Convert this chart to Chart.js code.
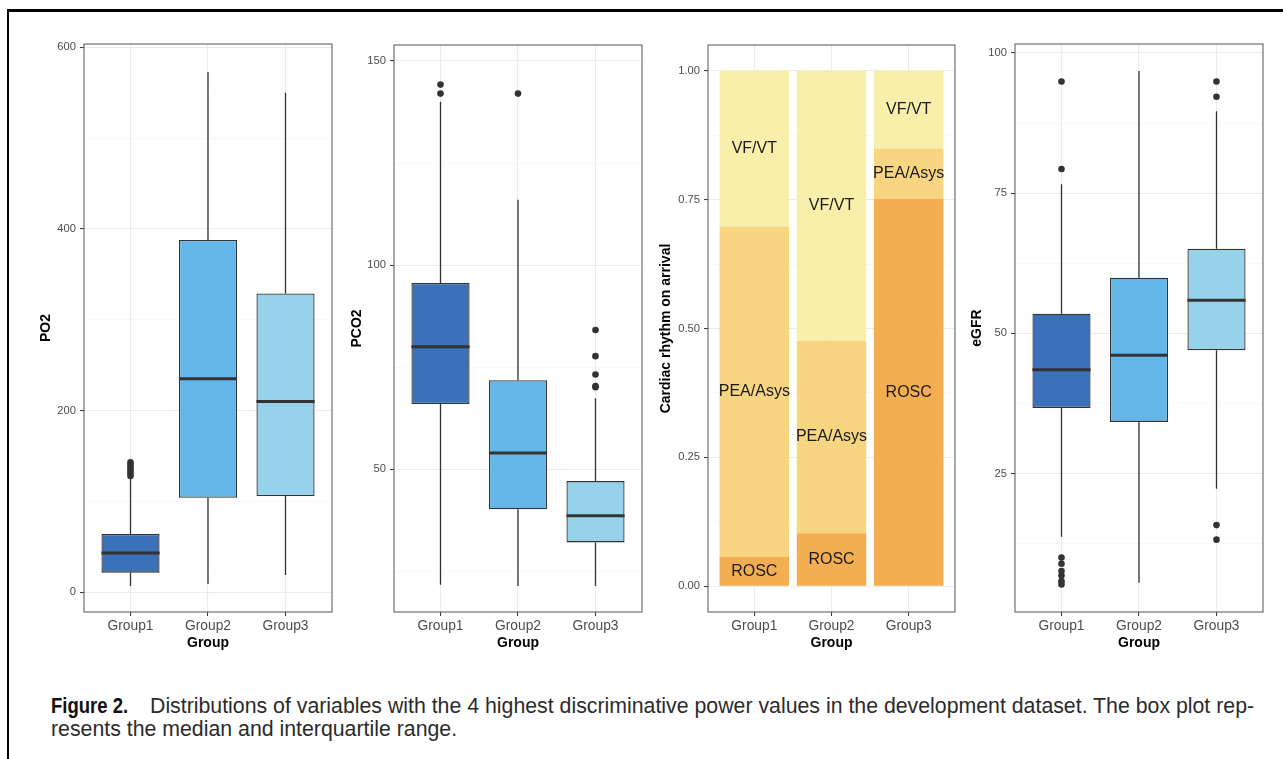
<!DOCTYPE html>
<html>
<head>
<meta charset="utf-8">
<script src="https://cdn.jsdelivr.net/npm/chart.js@4.4.1/dist/chart.umd.min.js"></script>
<style>
  body { margin: 0; background: #fff; width: 1283px; height: 759px; overflow: hidden; position: relative;
         font-family: "Liberation Sans", Arial, sans-serif; }
  .frame { position: absolute; left: 7px; top: 9px; width: 1400px; height: 900px;
           border-top: 3px solid #000; border-left: 2px solid #000; }
  canvas { position: absolute; top: 30px; }
  .cap { position: absolute; left: 51px; font-size: 21.3px; line-height: 23px; color: #2b2b2b; white-space: nowrap; }
  .fig { display: inline-block; width: 99px; font-weight: bold; color: #111; transform: scaleX(0.87); transform-origin: left center; }
</style>
</head>
<body>
<div class="frame"></div>
<canvas id="po2" width="316" height="660" style="left:20px"></canvas>
<canvas id="pco2" width="316" height="660" style="left:330px"></canvas>
<canvas id="rhythm" width="313" height="660" style="left:644px"></canvas>
<canvas id="egfr" width="316" height="660" style="left:951px"></canvas>
<div class="cap" style="top:695px"><span class="fig">Figure 2.</span>Distributions of variables with the 4 highest discriminative power values in the development dataset. The box plot rep-</div>
<div class="cap" style="top:718px">resents the median and interquartile range.</div>

<script>
const GROUPS = ['Group1', 'Group2', 'Group3'];

// PO2
const PO2_LOW = [6.9, 9.1, 19];
const PO2_Q1 = [21.6, 104, 106];
const PO2_MEDIAN = [43.3, 235, 210];
const PO2_Q3 = [64.2, 388, 329];
const PO2_HIGH = [124.8, 573, 550];
const PO2_OUTLIERS = [[128, 131, 134, 137, 140, 143], [], []];
const PO2_TICKS = [0, 200, 400, 600];

// PCO2
const PCO2_LOW = [21.7, 21.4, 21.4];
const PCO2_Q1 = [66.0, 40.2, 32.1];
const PCO2_MEDIAN = [80.0, 54.0, 38.6];
const PCO2_Q3 = [95.6, 71.8, 47.1];
const PCO2_HIGH = [140, 116, 67.4];
const PCO2_OUTLIERS = [[142, 144.2], [142], [70.1, 70.4, 73.2, 77.7, 84.1]];
const PCO2_TICKS = [50, 100, 150];

// Cardiac rhythm on arrival (proportions)
const RHYTHMS = ['ROSC', 'PEA/Asys', 'VF/VT'];
const ROSC = [0.057, 0.103, 0.751];
const PEA_ASYS = [0.641, 0.373, 0.098];
const VF_VT = [0.302, 0.524, 0.151];
const RHYTHM_TICKS = [0, 0.25, 0.5, 0.75, 1];

// eGFR
const EGFR_LOW = [13.7, 5.5, 22.3];
const EGFR_Q1 = [36.7, 34.2, 47.0];
const EGFR_MEDIAN = [43.5, 46.1, 55.9];
const EGFR_Q3 = [53.5, 59.9, 65.1];
const EGFR_HIGH = [76.6, 96.8, 89.6];
const EGFR_OUTLIERS = [[5.2, 5.8, 6.8, 7.6, 8.9, 10.0, 79.3, 94.9], [], [13.2, 15.8, 92.2, 94.9]];
const EGFR_TICKS = [25, 50, 75, 100];

const BOX_COLORS = ['#3a71b9', '#63b7e8', '#96d3ea'];
const RHYTHM_COLORS = ['#f4ae52', '#f7d581', '#f8efab'];
const INK = '#333333';

Chart.defaults.font.family = '"Liberation Sans", Arial, sans-serif';

// thick median line across each box
const medianLine = {
  id: 'medianLine',
  afterDatasetsDraw(chart) {
    const ctx = chart.ctx;
    chart.data.datasets.forEach((ds, di) => {
      if (!ds.medians) return;
      chart.getDatasetMeta(di).data.forEach((bar, i) => {
        const p = bar.getProps(['x', 'width'], true);
        const y = chart.scales.y.getPixelForValue(ds.medians[i]);
        ctx.save();
        ctx.strokeStyle = INK;
        ctx.lineWidth = 3;
        ctx.beginPath();
        ctx.moveTo(p.x - p.width / 2, y);
        ctx.lineTo(p.x + p.width / 2, y);
        ctx.stroke();
        ctx.restore();
      });
    });
  }
};

// ggplot style panel border
const panelBorder = {
  id: 'panelBorder',
  afterDraw(chart) {
    const a = chart.chartArea;
    const ctx = chart.ctx;
    ctx.save();
    ctx.strokeStyle = '#555';
    ctx.lineWidth = 1;
    ctx.strokeRect(a.left, a.top, a.right - a.left, a.bottom - a.top);
    ctx.restore();
  }
};

// text in the middle of each stacked segment
const segmentLabels = {
  id: 'segmentLabels',
  afterDatasetsDraw(chart) {
    const ctx = chart.ctx;
    ctx.save();
    ctx.fillStyle = '#1a1a1a';
    ctx.font = '16px "Liberation Sans", Arial, sans-serif';
    ctx.textAlign = 'center';
    ctx.textBaseline = 'middle';
    chart.data.datasets.forEach((ds, di) => {
      chart.getDatasetMeta(di).data.forEach(bar => {
        const p = bar.getProps(['x', 'y', 'base'], true);
        ctx.fillText(ds.label, p.x, (p.y + p.base) / 2);
      });
    });
    ctx.restore();
  }
};

function withMinors(majors, lo, hi) {
  return scale => {
    const step = majors[1] - majors[0];
    const ticks = majors.map(v => ({ value: v }));
    for (let v = majors[0] - step / 2; v <= hi; v += step) {
      if (v >= lo) ticks.push({ value: v, minor: true });
    }
    ticks.sort((a, b) => a.value - b.value);
    scale.ticks = ticks;
  };
}

const isMinor = c => c.tick && c.tick.minor;

function yAxis(title, majors, lo, hi, fmt, titlePad) {
  return {
    type: 'linear', min: lo, max: hi, stacked: true,
    afterBuildTicks: withMinors(majors, lo, hi),
    afterFit: s => { s.width = 64; },
    ticks: {
      callback: (v, i, t) => t[i].minor ? '' : fmt(v),
      color: '#4d4d4d', font: { size: 11.2 }, padding: 4, autoSkip: false
    },
    grid: {
      color: c => isMinor(c) ? '#f4f4f4' : '#ebebeb',
      lineWidth: c => isMinor(c) ? 0.6 : 1.1,
      tickColor: c => isMinor(c) ? 'rgba(0,0,0,0)' : INK,
      tickLength: 4, tickWidth: 1
    },
    border: { display: false },
    title: { display: true, text: title, color: '#000', font: { size: 14, weight: 'bold' },
             padding: { top: titlePad, bottom: 0 } }
  };
}

function xAxis() {
  return {
    type: 'linear', min: 0.4, max: 3.6, offset: false, stacked: true,
    afterBuildTicks: s => { s.ticks = GROUPS.map((g, i) => ({ value: i + 1 })); },
    afterFit: s => { s.height = 78; },
    ticks: {
      callback: v => GROUPS[Math.round(v) - 1],
      color: '#4d4d4d', font: { size: 13.8 }, padding: 2, maxRotation: 0, autoSkip: false
    },
    grid: { offset: false, color: '#ebebeb', lineWidth: 1.1, tickColor: INK, tickLength: 4, tickWidth: 1 },
    border: { display: false },
    title: { display: true, text: 'Group', color: '#000', font: { size: 14, weight: 'bold' },
             padding: { top: 0, bottom: 38.6 } }
  };
}

function options(y, top) {
  return {
    responsive: false, animation: false, events: [],
    layout: { padding: { top: top, right: 2, bottom: 0, left: 0 } },
    plugins: { legend: { display: false }, tooltip: { enabled: false } },
    scales: { x: xAxis(), y: y }
  };
}

function boxChart(id, low, q1, median, q3, high, outliers, y, top) {
  const whiskers = [];
  GROUPS.forEach((g, i) => {
    whiskers.push({ x: i + 1, y: low[i] }, { x: i + 1, y: q1[i] }, { x: i + 1, y: null },
                  { x: i + 1, y: q3[i] }, { x: i + 1, y: high[i] }, { x: i + 1, y: null });
  });
  const points = [];
  outliers.forEach((list, i) => list.forEach(v => points.push({ x: i + 1, y: v })));

  new Chart(document.getElementById(id), {
    type: 'bar',
    data: {
      datasets: [
        { type: 'scatter', data: points, backgroundColor: INK, borderWidth: 0, pointRadius: 3.3, order: 1 },
        { data: GROUPS.map((g, i) => ({ x: i + 1, y: [q1[i], q3[i]] })), medians: median,
          backgroundColor: BOX_COLORS, borderColor: INK, borderWidth: 1.3, borderSkipped: false,
          barPercentage: 0.75, categoryPercentage: 1, order: 2 },
        { type: 'line', data: whiskers, borderColor: INK, borderWidth: 1.3, pointRadius: 0,
          spanGaps: false, fill: false, order: 3 }
      ]
    },
    options: options(y, top),
    plugins: [medianLine, panelBorder]
  });
}

boxChart('po2', PO2_LOW, PO2_Q1, PO2_MEDIAN, PO2_Q3, PO2_HIGH, PO2_OUTLIERS,
         yAxis('PO2', PO2_TICKS, -21.7, 603.7, v => String(v), 18.1), 14);
boxChart('pco2', PCO2_LOW, PCO2_Q1, PCO2_MEDIAN, PCO2_Q3, PCO2_HIGH, PCO2_OUTLIERS,
         yAxis('PCO2', PCO2_TICKS, 15.05, 153.9, v => String(v), 18.6), 15);
boxChart('egfr', EGFR_LOW, EGFR_Q1, EGFR_MEDIAN, EGFR_Q3, EGFR_HIGH, EGFR_OUTLIERS,
         yAxis('eGFR', EGFR_TICKS, 0.3, 101.6, v => String(v), 17.6), 14);

const rhythmValues = [ROSC, PEA_ASYS, VF_VT];
new Chart(document.getElementById('rhythm'), {
  type: 'bar',
  data: {
    datasets: RHYTHMS.map((name, k) => ({
      label: name,
      data: GROUPS.map((g, i) => ({ x: i + 1, y: rhythmValues[k][i] })),
      backgroundColor: RHYTHM_COLORS[k], borderWidth: 0,
      barPercentage: 0.9, categoryPercentage: 1
    }))
  },
  options: options(yAxis('Cardiac rhythm on arrival', RHYTHM_TICKS, -0.05, 1.05, v => v.toFixed(2), 13.6), 15),
  plugins: [segmentLabels, panelBorder]
});
</script>
</body>
</html>
